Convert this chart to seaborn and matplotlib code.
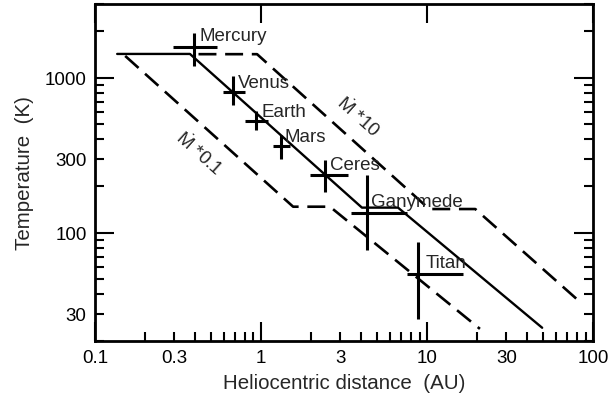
import numpy as np
import pandas as pd
import matplotlib
matplotlib.use("Agg")
import matplotlib.pyplot as plt
import matplotlib.ticker as mticker
import seaborn as sns

# ---- data ----
solid_r = [0.136, 0.373, 4.05, 6.68, 49.3]
solid_T = [1425, 1425, 145, 145, 24.3]

low_r = [0.152, 1.56, 2.60, 20.8]
low_T = [1383, 147, 147, 23.9]

high_r = [0.42, 0.946, 10.3, 19.5, 83.5]
high_T = [1420, 1420, 142, 142, 35.6]

bodies = ["Mercury", "Venus", "Earth", "Mars", "Ceres", "Ganymede", "Titan"]
body_r = [0.395, 0.678, 0.933, 1.32, 2.43, 4.35, 8.83]
body_T = [1580, 813, 523, 361, 235, 134, 53.8]
r_lo = [0.295, 0.59, 0.80, 1.18, 1.97, 3.48, 7.58]
r_hi = [0.543, 0.80, 1.10, 1.50, 3.34, 7.58, 16.5]
T_lo = [1194, 662, 457, 298, 183, 76.7, 27.7]
T_hi = [1941, 1030, 614, 425, 294, 235, 87.6]
label_r = [0.423, 0.726, 1.01, 1.376, 2.60, 4.6, 9.73]
label_T = [1888, 929, 605, 419, 277, 160, 64.3]

x_labels = {0.1: "0.1", 0.3: "0.3", 1: "1", 3: "3", 10: "10", 30: "30", 100: "100"}
y_labels = {30: "30", 100: "100", 300: "300", 1000: "1000"}

sns.set_style("ticks")
plt.rcParams["font.family"] = ["Liberation Sans", "DejaVu Sans"]
plt.rcParams["mathtext.fontset"] = "custom"
plt.rcParams["mathtext.rm"] = "Liberation Sans"
plt.rcParams["mathtext.it"] = "Liberation Sans"
FS = 13.5
FS_LAB = 14.8

fig = plt.figure(figsize=(6.09, 4.06), dpi=100)
ax = fig.add_axes([0.156, 0.158, 0.818, 0.830])

ax.set_xscale("log")
ax.set_yscale("log")

df_s = pd.DataFrame({"r": solid_r, "T": solid_T})
df_l = pd.DataFrame({"r": low_r, "T": low_T})
df_h = pd.DataFrame({"r": high_r, "T": high_T})

sns.lineplot(data=df_s, x="r", y="T", sort=False, estimator=None, ax=ax,
             color="black", lw=1.7)
sns.lineplot(data=df_l, x="r", y="T", sort=False, estimator=None, ax=ax,
             color="black", lw=1.9)
ax.lines[-1].set_dashes((6.8, 3.3))
sns.lineplot(data=df_h, x="r", y="T", sort=False, estimator=None, ax=ax,
             color="black", lw=1.9)
ax.lines[-1].set_dashes((6.8, 3.3))

br = np.array(body_r)
bT = np.array(body_T)
xerr = np.vstack([br - np.array(r_lo), np.array(r_hi) - br])
yerr = np.vstack([bT - np.array(T_lo), np.array(T_hi) - bT])
ax.errorbar(br, bT, xerr=xerr, yerr=yerr, fmt="none", ecolor="black",
            elinewidth=2.2, capsize=0)

for name, lx, ly in zip(bodies, label_r, label_T):
    ax.text(lx, ly, name, ha="left", va="center", fontsize=FS)

ax.text(3.84, 570, r"$\dot{\mathrm{M}}$ *10", rotation=-42, rotation_mode="anchor",
        ha="center", va="center", fontsize=FS)
ax.text(0.423, 330, r"$\dot{\mathrm{M}}$ *0.1", rotation=-42, rotation_mode="anchor",
        ha="center", va="center", fontsize=FS)

ax.set_xlim(0.1, 100)
ax.set_ylim(20, 3000)

ax.xaxis.set_major_locator(mticker.FixedLocator([0.1, 1, 10, 100]))
ax.xaxis.set_minor_locator(mticker.LogLocator(base=10, subs=np.arange(2, 10), numticks=20))
ax.yaxis.set_major_locator(mticker.FixedLocator([100, 1000]))
ax.yaxis.set_minor_locator(mticker.LogLocator(base=10, subs=np.arange(2, 10), numticks=20))

def fx(v, pos=None):
    for k, s in x_labels.items():
        if abs(np.log10(v) - np.log10(k)) < 1e-6:
            return s
    return ""

def fy(v, pos=None):
    for k, s in y_labels.items():
        if abs(np.log10(v) - np.log10(k)) < 1e-6:
            return s
    return ""

ax.xaxis.set_major_formatter(mticker.FuncFormatter(fx))
ax.xaxis.set_minor_formatter(mticker.FuncFormatter(fx))
ax.yaxis.set_major_formatter(mticker.FuncFormatter(fy))
ax.yaxis.set_minor_formatter(mticker.FuncFormatter(fy))

ax.tick_params(which="both", direction="in", width=1.5, labelsize=FS, colors="black")
ax.tick_params(which="major", length=14, top=True, right=True)
ax.tick_params(which="minor", length=6.5, top=False, right=True)
ax.tick_params(axis="x", which="both", pad=6)
ax.tick_params(axis="y", which="both", pad=6)

for sp in ax.spines.values():
    sp.set_visible(True)
    sp.set_linewidth(2.0)
    sp.set_color("black")

ax.set_xlabel("Heliocentric distance  (AU)", fontsize=FS_LAB, labelpad=5)
ax.set_ylabel("Temperature  (K)", fontsize=FS_LAB, labelpad=8)

fig.savefig("out.png", dpi=100)
